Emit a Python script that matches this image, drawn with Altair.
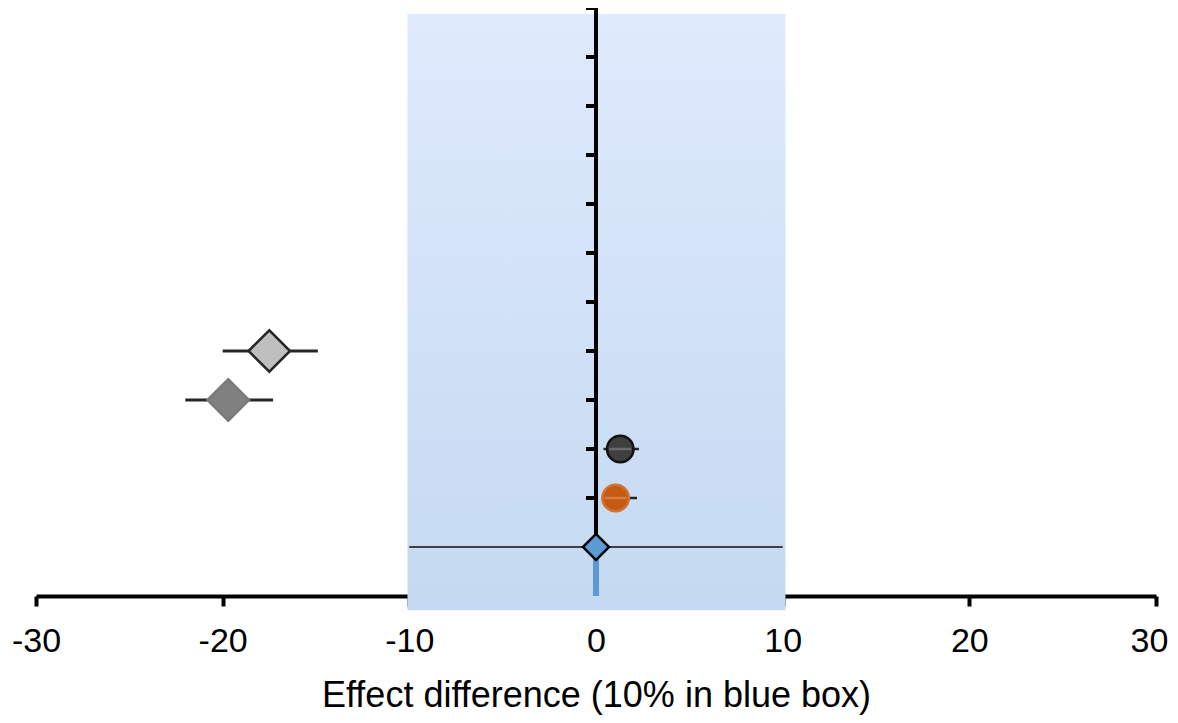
import altair as alt
import pandas as pd

# ---- data ----
rows = [1, 2, 3, 4, 5]
groups = ["pooled", "orange", "dark", "dgray", "lgray"]
estimate = [0.0, 1.05, 1.3, -19.7, -17.5]
ci_low = [-10.0, 0.4, 0.4, -22.0, -20.0]
ci_high = [10.0, 2.2, 2.3, -17.3, -14.9]
tick_rows = list(range(1, 13))
x_ticks = [-30, -20, -10, 0, 10, 20, 30]
box_low = [-10.1]
box_high = [10.15]
box_bottom = [-0.29]
box_top = [11.88]

# ---- styles per group ----
diamond = "M-1,0L0,-1L1,0L0,1Z"
shape_range = [diamond, "circle", "circle", diamond, diamond]
fill_range = ["#5b9bd5", "#c55a11", "#3f3f3f", "#808080", "#bfbfbf"]
stroke_range = ["#000000", "#cf7434", "#111111", "#7a7a7a", "#262626"]
size_range = [680, 700, 700, 1720, 1720]
ci_color_range = ["#404040", "#262626", "#262626", "#262626", "#262626"]
ci_width_range = [2, 2.5, 2.5, 3, 3]

df = pd.DataFrame({"row": rows, "group": groups, "est": estimate,
                   "lo": ci_low, "hi": ci_high})
box_df = pd.DataFrame({"x": box_low, "x2": box_high, "y": box_top, "y2": box_bottom})
axis_df = pd.DataFrame({"x": [0], "y": [0], "y2": [max(tick_rows)]})
ticks_df = pd.DataFrame({"x": [0] * len(tick_rows), "row": tick_rows})
pooled_df = df[df["group"] == "pooled"].assign(base=0)
circ_df = df[df["group"].isin(["orange", "dark"])]

xscale = alt.Scale(domain=[-30, 30], nice=False, zero=False)
yscale = alt.Scale(domain=[0, 12], nice=False, zero=False)
gdom = groups


def oscale(rng):
    return alt.Scale(type="ordinal", domain=gdom, range=rng)


xaxis = alt.Axis(values=x_ticks, title="Effect difference (10% in blue box)",
                 grid=False, labelExpr="'' + datum.value", labelFlush=False,
                 labelOffset={"condition": {"test": "datum.value == 30", "value": -7}, "value": 0})

gradient = alt.Gradient(
    gradient="linear",
    stops=[alt.GradientStop(color="#dfeafc", offset=0),
           alt.GradientStop(color="#c4d9f1", offset=1)],
    x1=0, x2=0, y1=0, y2=1,
)

box = alt.Chart(box_df).mark_rect(color=gradient).encode(
    x=alt.X("x:Q", scale=xscale, axis=xaxis),
    x2="x2:Q",
    y=alt.Y("y:Q", scale=yscale, axis=None),
    y2="y2:Q",
)

vaxis = alt.Chart(axis_df).mark_rule(color="black", strokeWidth=4).encode(
    x=alt.X("x:Q", scale=xscale, axis=xaxis),
    y=alt.Y("y:Q", scale=yscale, axis=None),
    y2="y2:Q",
)

vticks = alt.Chart(ticks_df).mark_rule(color="black", strokeWidth=4, xOffset=-10).encode(
    x=alt.X("x:Q", scale=xscale, axis=xaxis),
    x2="x:Q",
    y=alt.Y("row:Q", scale=yscale, axis=None),
)

blue_stem = alt.Chart(pooled_df).mark_rule(color="#5b9bd5", strokeWidth=6).encode(
    x=alt.X("est:Q", scale=xscale, axis=xaxis),
    y=alt.Y("base:Q", scale=yscale, axis=None),
    y2="row:Q",
)

ci = alt.Chart(df).mark_rule().encode(
    x=alt.X("lo:Q", scale=xscale, axis=xaxis),
    x2="hi:Q",
    y=alt.Y("row:Q", scale=yscale, axis=None),
    color=alt.Color("group:N", scale=oscale(ci_color_range), legend=None),
    strokeWidth=alt.StrokeWidth("group:N", scale=oscale(ci_width_range), legend=None),
)

points = alt.Chart(df).mark_point(filled=True, opacity=1, strokeWidth=2.5).encode(
    x=alt.X("est:Q", scale=xscale, axis=xaxis),
    y=alt.Y("row:Q", scale=yscale, axis=None),
    shape=alt.Shape("group:N", scale=oscale(shape_range), legend=None),
    fill=alt.Fill("group:N", scale=oscale(fill_range), legend=None),
    stroke=alt.Stroke("group:N", scale=oscale(stroke_range), legend=None),
    size=alt.Size("group:N", scale=oscale(size_range), legend=None),
)

# faint line visible through the circles
inner = alt.Chart(circ_df).mark_rule(color="white", opacity=0.22, strokeWidth=2.5,
                                     xOffset=-11, x2Offset=11).encode(
    x=alt.X("est:Q", scale=xscale, axis=xaxis),
    x2="est:Q",
    y=alt.Y("row:Q", scale=yscale, axis=None),
)

chart = alt.layer(box, vaxis, vticks, blue_stem, ci, points, inner).resolve_scale(
    color="independent", strokeWidth="independent"
).properties(
    width=1120, height=588,
    autosize=alt.AutoSizeParams(type="none"),
    padding={"left": 28, "top": 0, "right": 14, "bottom": 119},
    background="white",
).configure_view(stroke=None).configure_axisX(
    domainColor="black", domainWidth=4, tickColor="black", tickWidth=4, tickSize=10,
    labelFont="Liberation Sans", labelFontSize=34, labelColor="black", labelPadding=18,
    titleFont="Liberation Sans", titleFontSize=36, titleFontWeight="normal", titleColor="black",
    titleY=110, titleBaseline="alphabetic",
)

chart.save("out.html", embed_options={"renderer": "svg", "actions": False})
